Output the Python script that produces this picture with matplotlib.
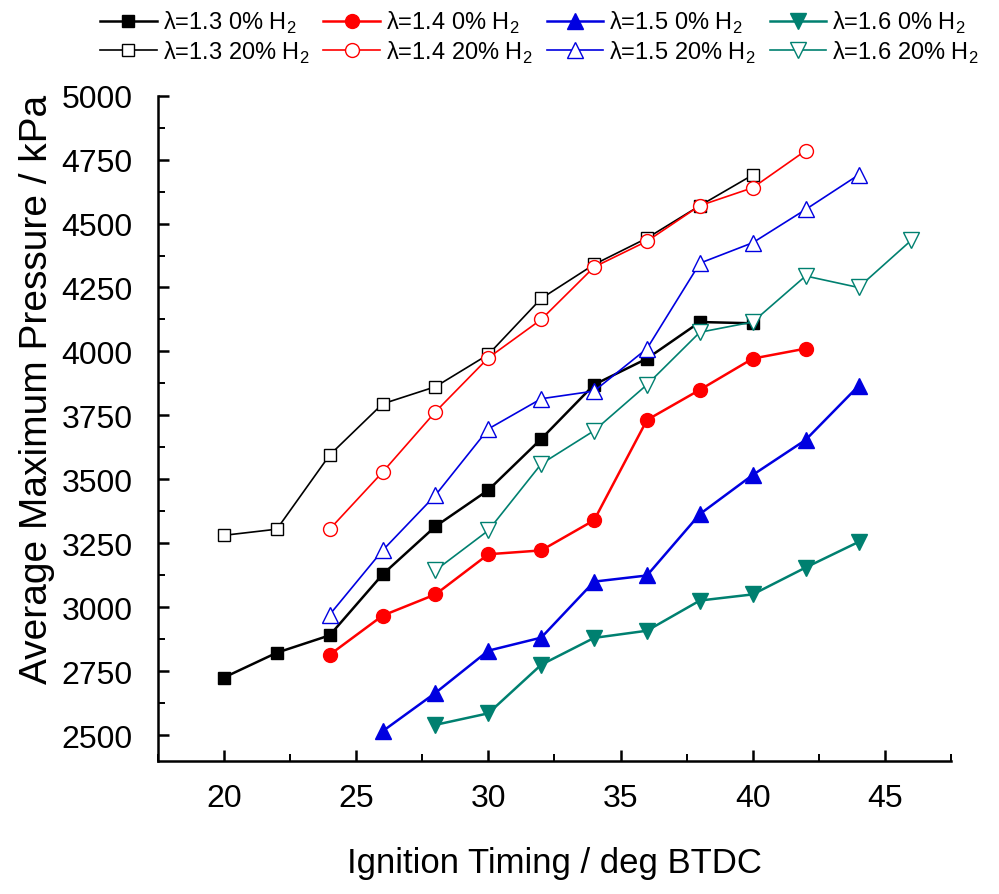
import matplotlib
matplotlib.use("Agg")
import matplotlib.pyplot as plt
from matplotlib.ticker import MultipleLocator

plt.rcParams['font.family'] = ['Liberation Sans', 'DejaVu Sans']
plt.rcParams['mathtext.fontset'] = 'custom'
plt.rcParams['mathtext.rm'] = 'Liberation Sans'

# ignition timing (deg BTDC) and average max pressure (kPa)
x_13_0 = [20, 22, 24, 26, 28, 30, 32, 34, 36, 38, 40]
y_13_0 = [2725, 2822, 2890, 3128, 3316, 3458, 3658, 3870, 3972, 4115, 4110]
x_13_20 = [20, 22, 24, 26, 28, 30, 32, 34, 36, 38, 40]
y_13_20 = [3281, 3305, 3595, 3795, 3862, 3988, 4207, 4340, 4443, 4570, 4690]

x_14_0 = [24, 26, 28, 30, 32, 34, 36, 38, 40, 42]
y_14_0 = [2814, 2967, 3050, 3207, 3222, 3340, 3732, 3850, 3972, 4011]
x_14_20 = [24, 26, 28, 30, 32, 34, 36, 38, 40, 42]
y_14_20 = [3305, 3528, 3764, 3975, 4125, 4330, 4431, 4570, 4640, 4785]

x_15_0 = [26, 28, 30, 32, 34, 36, 38, 40, 42, 44]
y_15_0 = [2515, 2665, 2830, 2881, 3100, 3124, 3364, 3517, 3654, 3865]
x_15_20 = [24, 26, 28, 30, 32, 34, 36, 38, 40, 42, 44]
y_15_20 = [2971, 3222, 3438, 3697, 3815, 3845, 4011, 4345, 4425, 4555, 4690]

x_16_0 = [28, 30, 32, 34, 36, 38, 40, 42, 44]
y_16_0 = [2540, 2585, 2775, 2880, 2908, 3026, 3050, 3155, 3255]
x_16_20 = [28, 30, 32, 34, 36, 38, 40, 42, 44, 46]
y_16_20 = [3144, 3300, 3560, 3690, 3870, 4075, 4115, 4295, 4250, 4435]

fig = plt.figure(figsize=(9.99, 8.95), dpi=100)
ax = fig.add_axes([0.158, 0.149, 0.794, 0.743])

c_red = '#ff0000'
c_blue = '#0000e0'
c_teal = '#008070'

ax.plot(x_13_0, y_13_0, '-s', color='black', mfc='black', ms=9, lw=1.8,
        label=r'λ=1.3 0% H$_2$')
ax.plot(x_13_20, y_13_20, '-s', color='black', mfc='white', ms=9, lw=1.2,
        label=r'λ=1.3 20% H$_2$')
ax.plot(x_14_0, y_14_0, '-o', color=c_red, mfc=c_red, ms=10, lw=1.8,
        label=r'λ=1.4 0% H$_2$')
ax.plot(x_14_20, y_14_20, '-o', color=c_red, mfc='white', ms=10, lw=1.2,
        label=r'λ=1.4 20% H$_2$')
ax.plot(x_15_0, y_15_0, '-^', color=c_blue, mfc=c_blue, ms=11, lw=1.8,
        label=r'λ=1.5 0% H$_2$')
ax.plot(x_15_20, y_15_20, '-^', color=c_blue, mfc='white', ms=11, lw=1.2,
        label=r'λ=1.5 20% H$_2$')
ax.plot(x_16_0, y_16_0, '-v', color=c_teal, mfc=c_teal, ms=11, lw=1.8,
        label=r'λ=1.6 0% H$_2$')
ax.plot(x_16_20, y_16_20, '-v', color=c_teal, mfc='white', ms=11, lw=1.2,
        label=r'λ=1.6 20% H$_2$')

ax.set_xlim(17.5, 47.5)
ax.set_ylim(2400, 5000)
ax.xaxis.set_major_locator(MultipleLocator(5))
ax.xaxis.set_minor_locator(MultipleLocator(2.5))
ax.yaxis.set_major_locator(MultipleLocator(250))
ax.yaxis.set_minor_locator(MultipleLocator(125))

for s in ['top', 'right']:
    ax.spines[s].set_visible(False)
for s in ['left', 'bottom']:
    ax.spines[s].set_linewidth(1.8)

ax.tick_params(which='major', direction='in', length=8, width=1.8,
               labelsize=23)
ax.tick_params(which='minor', direction='in', length=5, width=1.4)
ax.tick_params(axis='x', which='major', pad=16)
ax.tick_params(axis='y', which='major', pad=18)

ax.set_xlabel('Ignition Timing / deg BTDC', fontsize=25)
ax.set_ylabel('Average Maximum Pressure / kPa', fontsize=28)
ax.xaxis.set_label_coords(0.5, -0.128)
ax.yaxis.set_label_coords(-0.13, 0.56)

fig.legend(loc='upper center', bbox_to_anchor=(0.54, 1.01), ncol=4,
           frameon=False, fontsize=17, handlelength=2.4, handletextpad=0.25,
           columnspacing=0.6, labelspacing=0.15, borderpad=0.3)

fig.savefig('out.png', dpi=100)
